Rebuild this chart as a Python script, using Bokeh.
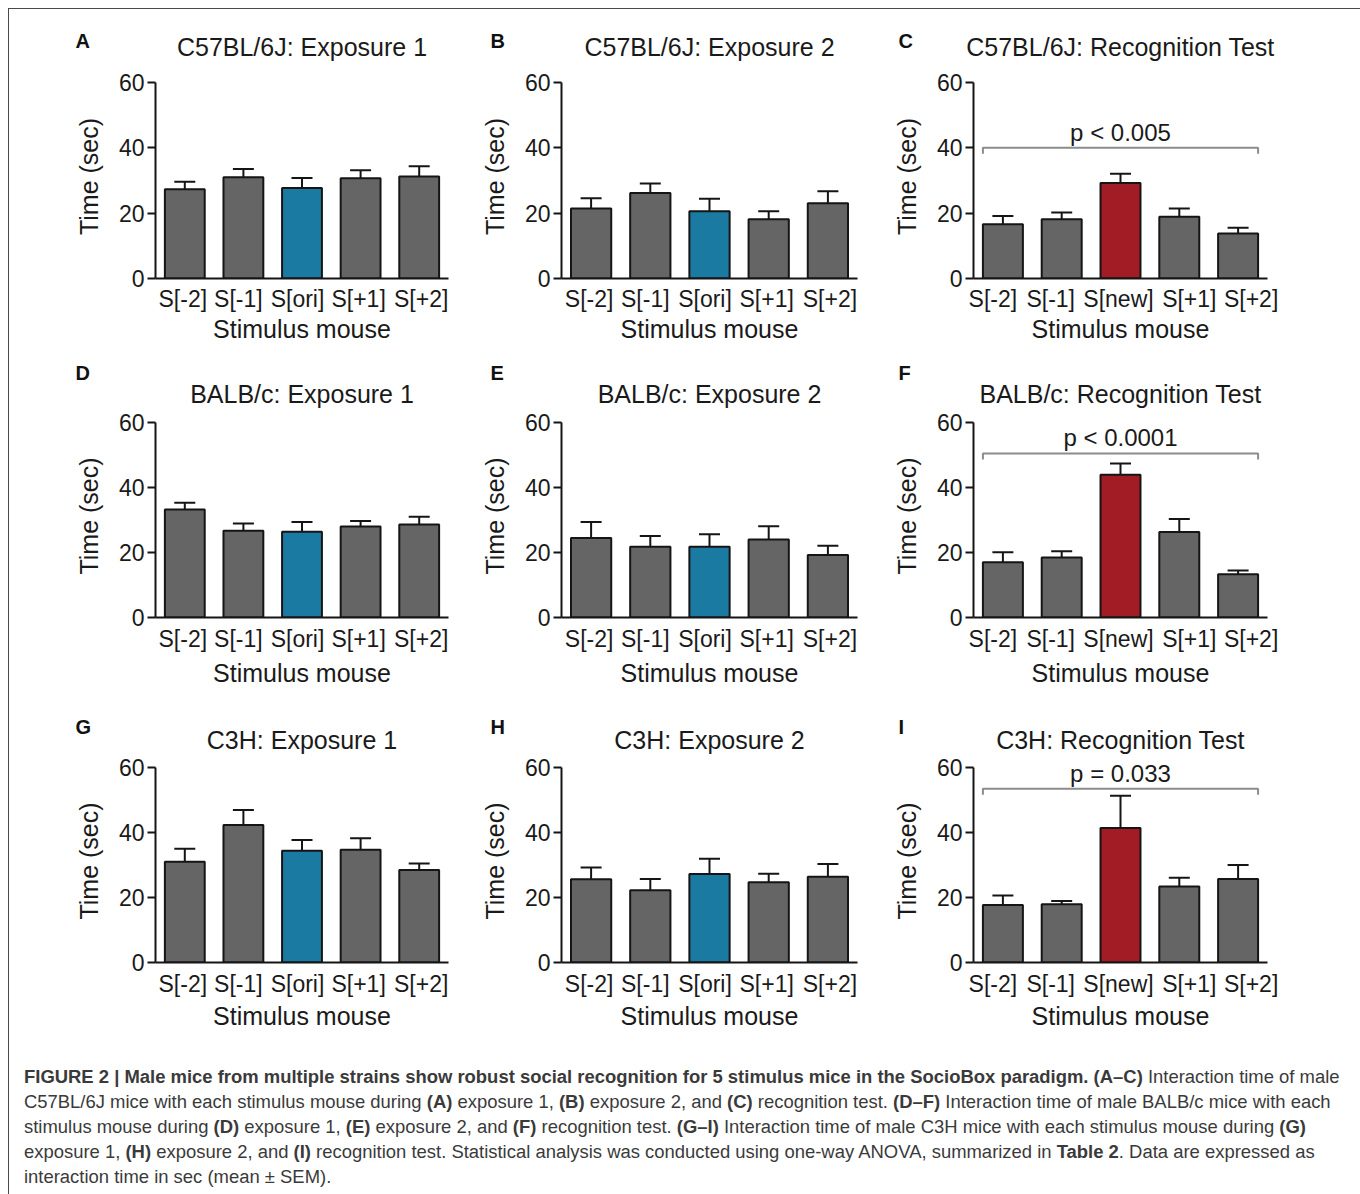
from bokeh.plotting import figure
from bokeh.models import (Range1d, Whisker, TeeHead, Div, ColumnDataSource, FixedTicker)
from bokeh.layouts import column, row
from bokeh.core.properties import value
from bokeh.embed import file_html
from bokeh.resources import INLINE

FONT = "Liberation Sans"

# ---------------- data ----------------
stim_exposure = ["S[-2]", "S[-1]", "S[ori]", "S[+1]", "S[+2]"]
stim_test = ["S[-2]", "S[-1]", "S[new]", "S[+1]", "S[+2]"]

letters = ["A", "B", "C", "D", "E", "F", "G", "H", "I"]
titles = ["C57BL/6J: Exposure 1", "C57BL/6J: Exposure 2", "C57BL/6J: Recognition Test",
          "BALB/c: Exposure 1", "BALB/c: Exposure 2", "BALB/c: Recognition Test",
          "C3H: Exposure 1", "C3H: Exposure 2", "C3H: Recognition Test"]

c57_exp1_mean = [27.3, 31.0, 27.7, 30.7, 31.2]
c57_exp1_sem = [2.3, 2.5, 3.1, 2.4, 3.2]
c57_exp2_mean = [21.4, 26.2, 20.6, 18.1, 23.0]
c57_exp2_sem = [3.2, 2.9, 3.8, 2.5, 3.7]
c57_test_mean = [16.6, 18.1, 29.2, 18.9, 13.8]
c57_test_sem = [2.5, 2.1, 2.9, 2.5, 1.7]

balb_exp1_mean = [33.2, 26.7, 26.4, 28.0, 28.6]
balb_exp1_sem = [2.1, 2.2, 3.0, 1.7, 2.4]
balb_exp2_mean = [24.5, 21.8, 21.8, 24.0, 19.2]
balb_exp2_sem = [4.9, 3.3, 3.8, 4.1, 2.9]
balb_test_mean = [17.0, 18.5, 43.9, 26.3, 13.3]
balb_test_sem = [3.1, 1.9, 3.5, 4.0, 1.2]

c3h_exp1_mean = [31.0, 42.3, 34.4, 34.7, 28.5]
c3h_exp1_sem = [4.0, 4.6, 3.3, 3.5, 2.0]
c3h_exp2_mean = [25.6, 22.2, 27.2, 24.7, 26.4]
c3h_exp2_sem = [3.6, 3.5, 4.7, 2.6, 3.9]
c3h_test_mean = [17.7, 17.9, 41.4, 23.4, 25.7]
c3h_test_sem = [2.9, 1.0, 9.9, 2.7, 4.3]

# significance brackets for the recognition tests (panels C, F, I)
bracket_level = [40.0, 50.5, 53.5]
p_text = ["p < 0.005", "p < 0.0001", "p = 0.033"]

y_ticks = [0, 20, 40, 60]

# ---------------- style / layout (page pixels) ----------------
GRAY = "#656565"
BLUE = "#1b7aa1"
RED = "#a11c24"
INK = "#151515"
TXT = "#1a1a1a"
BAR_W = 0.68
HEADROOM = 8               # px of plot area kept above the 60 s line (room for p-value text)

X0, Y0 = 9, 9              # content origin inside the outer frame
WIDTH = 1341
fig_x = [(9, 470), (470, 882), (882, 1350)]
frame_x = [(155, 448), (561, 857), (973, 1267)]
header_y = [(9, 66), (355, 409), (700, 754)]
fig_y = [(66, 355), (409, 700), (754, 1045)]
frame_y = [(82, 278), (422, 617), (767, 962)]     # y = 60 line .. y = 0 line
letter_x = [75, 490, 898]
letter_mid = [40, 372.5, 726]
title_mid = [46.5, 393.5, 739.5]
xaxis_standoff = [7, 8, 8]
xlab_standoff = [0, 4, 2]
# the category labels are set as running text, so they drift slightly off the bar centres (px)
label_shift_exposure = [-2, -5, -4.5, -2, 2]
label_shift_test = [-10, -11, -2, 10, 13]


def make_header(r):
    h0, h1 = header_y[r]
    hh = h1 - h0
    p = figure(x_range=Range1d(0, WIDTH), y_range=Range1d(0, hh),
               frame_width=WIDTH, frame_height=hh, min_border=0,
               x_axis_type=None, y_axis_type=None,
               output_backend="svg", toolbar_location=None)
    p.outline_line_color = None
    p.grid.visible = False
    lx = [letter_x[c] - X0 for c in range(3)]
    ly = [h1 - letter_mid[r]] * 3
    p.text(x=lx, y=ly, text=letters[3 * r:3 * r + 3], text_font=value(FONT),
           text_font_style="bold", text_font_size="20px", text_baseline="middle",
           text_align="left", text_color="#111111")
    tx = [(frame_x[c][0] + frame_x[c][1]) / 2 - X0 for c in range(3)]
    ty = [h1 - title_mid[r]] * 3
    p.text(x=tx, y=ty, text=titles[3 * r:3 * r + 3], text_font=value(FONT),
           text_font_size="25px", text_baseline="middle", text_align="center",
           text_color=TXT)
    return p


def make_panel(i, cats, means, sems, hl_color, bracket=None, ptxt=None):
    c, r = i % 3, i // 3
    fx0, fx1 = frame_x[c]
    fy0, fy1 = frame_y[r]
    n = len(cats)
    ymax = y_ticks[-1]
    step = (fx1 - fx0) / n            # px per category
    unit = (fy1 - fy0) / ymax         # px per second
    p = figure(x_range=Range1d(0, n), y_range=Range1d(0, ymax + HEADROOM / unit),
               frame_width=fx1 - fx0, frame_height=fy1 - fy0 + HEADROOM,
               min_border_left=fx0 - fig_x[c][0], min_border_right=fig_x[c][1] - fx1,
               min_border_top=fy0 - HEADROOM - fig_y[r][0], min_border_bottom=fig_y[r][1] - fy1,
               output_backend="svg", toolbar_location=None)
    p.outline_line_color = None
    p.grid.visible = False
    p.background_fill_color = "white"

    xs = [k + 0.5 for k in range(n)]
    colors = [GRAY] * n
    colors[2] = hl_color
    upper = [m + s for m, s in zip(means, sems)]
    src = ColumnDataSource(dict(x=xs, top=means, upper=upper, color=colors))
    p.vbar(x="x", top="top", bottom=0, width=BAR_W, fill_color="color",
           line_color=INK, line_width=2, source=src)
    p.add_layout(Whisker(base="x", lower="top", upper="upper", source=src,
                         dimension="height", line_color=INK, line_width=2,
                         upper_head=TeeHead(size=21, line_color=INK, line_width=2),
                         lower_head=None))

    if bracket is not None:
        left = xs[0] - BAR_W / 2
        right = xs[-1] + BAR_W / 2
        drop = 6 / unit
        p.line(x=[left, left, right, right], y=[bracket - drop, bracket, bracket, bracket - drop],
               line_color="#8c8c8c", line_width=2)
        p.text(x=[n / 2], y=[bracket + 15.5 / unit], text=[ptxt], text_align="center",
               text_baseline="middle", text_font=value(FONT),
               text_font_size="24px", text_color=TXT)

    # axes
    for ax in (p.xaxis[0], p.yaxis[0]):
        ax.axis_line_width = 2
        ax.axis_line_color = INK
        ax.major_label_text_font = FONT
        ax.major_label_text_color = TXT
        ax.axis_label_text_font = FONT
        ax.axis_label_text_font_size = "25px"
        ax.axis_label_text_font_style = "normal"
        ax.axis_label_text_color = TXT
        ax.minor_tick_line_color = None

    shifts = label_shift_test if bracket is not None else label_shift_exposure
    tick_pos = [round(x + s / step, 4) for x, s in zip(xs, shifts)]
    p.xaxis.ticker = FixedTicker(ticks=tick_pos)
    p.xaxis.major_label_overrides = {t: lab for t, lab in zip(tick_pos, cats)}
    p.xaxis.axis_label = "Stimulus mouse"
    p.xaxis.major_tick_line_color = None
    p.xaxis.major_tick_out = 0
    p.xaxis.major_tick_in = 0
    p.xaxis.major_label_text_font_size = "23px"
    p.xaxis.major_label_standoff = xaxis_standoff[r]
    p.xaxis.axis_label_standoff = xlab_standoff[r]

    p.yaxis.axis_label = "Time (sec)"
    p.yaxis.ticker = FixedTicker(ticks=y_ticks)
    p.yaxis.bounds = (0, ymax)
    p.yaxis.major_tick_out = 8
    p.yaxis.major_tick_in = 0
    p.yaxis.major_tick_line_width = 2
    p.yaxis.major_tick_line_color = INK
    p.yaxis.major_label_text_font_size = "23px"
    p.yaxis.major_label_standoff = 3
    p.yaxis.axis_label_standoff = 13
    return p


panels = [
    make_panel(0, stim_exposure, c57_exp1_mean, c57_exp1_sem, BLUE),
    make_panel(1, stim_exposure, c57_exp2_mean, c57_exp2_sem, BLUE),
    make_panel(2, stim_test, c57_test_mean, c57_test_sem, RED, bracket_level[0], p_text[0]),
    make_panel(3, stim_exposure, balb_exp1_mean, balb_exp1_sem, BLUE),
    make_panel(4, stim_exposure, balb_exp2_mean, balb_exp2_sem, BLUE),
    make_panel(5, stim_test, balb_test_mean, balb_test_sem, RED, bracket_level[1], p_text[1]),
    make_panel(6, stim_exposure, c3h_exp1_mean, c3h_exp1_sem, BLUE),
    make_panel(7, stim_exposure, c3h_exp2_mean, c3h_exp2_sem, BLUE),
    make_panel(8, stim_test, c3h_test_mean, c3h_test_sem, RED, bracket_level[2], p_text[2]),
]

caption_lines = [
    "<b>FIGURE 2 | Male mice from multiple strains show robust social recognition for 5 stimulus mice in the SocioBox paradigm. (A&ndash;C)</b> Interaction time of male",
    "C57BL/6J mice with each stimulus mouse during <b>(A)</b> exposure 1, <b>(B)</b> exposure 2, and <b>(C)</b> recognition test. <b>(D&ndash;F)</b> Interaction time of male BALB/c mice with each",
    "stimulus mouse during <b>(D)</b> exposure 1, <b>(E)</b> exposure 2, and <b>(F)</b> recognition test. <b>(G&ndash;I)</b> Interaction time of male C3H mice with each stimulus mouse during <b>(G)</b>",
    "exposure 1, <b>(H)</b> exposure 2, and <b>(I)</b> recognition test. Statistical analysis was conducted using one-way ANOVA, summarized in <b>Table 2</b>. Data are expressed as",
    "interaction time in sec (mean &plusmn; SEM).",
]
caption_html = ("<div style=\"font-family:'Liberation Sans',Arial,sans-serif;"
                "font-size:18.45px;line-height:25px;color:#3a3a3a;white-space:nowrap;"
                "padding:14px 0 0 10px;\">" + "<br>".join(caption_lines) + "</div>")
caption = Div(text=caption_html, width=WIDTH, height=145)

layout = column(
    make_header(0),
    row(*panels[0:3], spacing=0),
    make_header(1),
    row(*panels[3:6], spacing=0),
    make_header(2),
    row(*panels[6:9], spacing=0),
    caption,
    spacing=0,
    styles={"border": "1px solid #4a4a4a", "background-color": "white",
            "margin-left": "8px", "margin-top": "8px"},
)

open("out.html", "w").write(file_html(layout, INLINE))
